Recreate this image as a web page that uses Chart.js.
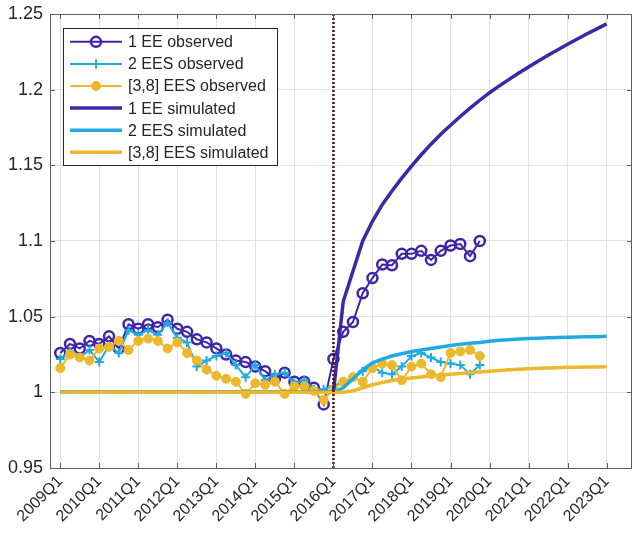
<!DOCTYPE html>
<html>
<head>
<meta charset="utf-8">
<script src="https://cdn.jsdelivr.net/npm/chart.js@4.4.1/dist/chart.umd.min.js"></script>
<style>
  html, body { margin: 0; padding: 0; background: #ffffff; }
  canvas { display: block; }
</style>
</head>
<body>
<canvas id="chart" width="633" height="535"></canvas>
<script>
// Quarter index 0 = 2009Q1, index 56 = 2023Q1.
const tickIndex  = [0, 4, 8, 12, 16, 20, 24, 28, 32, 36, 40, 44, 48, 52, 56];
const tickLabels = ['2009Q1', '2010Q1', '2011Q1', '2012Q1', '2013Q1', '2014Q1', '2015Q1',
                    '2016Q1', '2017Q1', '2018Q1', '2019Q1', '2020Q1', '2021Q1', '2022Q1', '2023Q1'];
const yTicks = [0.95, 1.00, 1.05, 1.10, 1.15, 1.20, 1.25];
const yTickLabels = ['0.95', '1', '1.05', '1.1', '1.15', '1.2', '1.25'];

// Reform quarter (vertical marker)
const reformQuarter = 28;

// Observed series, 2009Q1 .. 2019Q4
const ee1Observed = [
  1.026, 1.032, 1.029, 1.034, 1.032, 1.037, 1.029, 1.045, 1.042, 1.045,
  1.043, 1.048, 1.042, 1.040, 1.035, 1.033, 1.029, 1.025, 1.021, 1.020,
  1.017, 1.014, 1.009, 1.013, 1.007, 1.007, 1.003, 0.992, 1.022, 1.040,
  1.0465, 1.0655, 1.0755, 1.0845, 1.084, 1.0915, 1.0915, 1.0935, 1.0875, 1.0935,
  1.097, 1.098, 1.090, 1.100
];
const ees2Observed = [
  1.022, 1.027, 1.023, 1.028, 1.020, 1.031, 1.026, 1.041, 1.038, 1.041,
  1.038, 1.046, 1.036, 1.033, 1.017, 1.021, 1.024, 1.026, 1.018, 1.010,
  1.018, 1.008, 1.012, 1.013, 1.006, 1.008, 1.002, 1.002, 1.004, 1.007,
  1.010, 1.014, 1.017, 1.013, 1.012, 1.017, 1.024, 1.026, 1.023, 1.020,
  1.019, 1.018, 1.012, 1.018
];
const ees38Observed = [
  1.016, 1.025, 1.023, 1.021, 1.029, 1.030, 1.034, 1.028, 1.034, 1.0355,
  1.034, 1.029, 1.033, 1.026, 1.021, 1.015, 1.011, 1.009, 1.007, 0.999,
  1.006, 1.005, 1.007, 0.999, 1.004, 1.004, 1.001, 0.995, 1.002, 1.007,
  1.010, 1.007, 1.016, 1.019, 1.018, 1.008, 1.017, 1.019, 1.012, 1.010,
  1.026, 1.027, 1.028, 1.024
];

// Simulated series, 2009Q1 .. 2023Q1
const ee1Simulated = [
  1.000, 1.000, 1.000, 1.000, 1.000, 1.000, 1.000, 1.000, 1.000, 1.000,
  1.000, 1.000, 1.000, 1.000, 1.000, 1.000, 1.000, 1.000, 1.000, 1.000,
  1.000, 1.000, 1.000, 1.000, 1.000, 1.000, 1.000, 1.000, 1.000,
  1.060, 1.080, 1.100, 1.113, 1.124, 1.133, 1.1415, 1.1495, 1.157, 1.164,
  1.1705, 1.1765, 1.1823, 1.1878, 1.193, 1.198, 1.2025, 1.2068, 1.211, 1.215,
  1.2189, 1.2227, 1.2264, 1.230, 1.2335, 1.2369, 1.2402, 1.2435
];
const ees2Simulated = [
  1.000, 1.000, 1.000, 1.000, 1.000, 1.000, 1.000, 1.000, 1.000, 1.000,
  1.000, 1.000, 1.000, 1.000, 1.000, 1.000, 1.000, 1.000, 1.000, 1.000,
  1.000, 1.000, 1.000, 1.000, 1.000, 1.000, 1.000, 1.000, 1.000,
  1.003, 1.009, 1.015, 1.0195, 1.022, 1.024, 1.0255, 1.027, 1.028, 1.029,
  1.030, 1.031, 1.0318, 1.0325, 1.033, 1.0337, 1.0344, 1.0348, 1.0352, 1.0355,
  1.0358, 1.036, 1.0362, 1.0364, 1.0366, 1.0367, 1.0368, 1.037
];
const ees38Simulated = [
  1.000, 1.000, 1.000, 1.000, 1.000, 1.000, 1.000, 1.000, 1.000, 1.000,
  1.000, 1.000, 1.000, 1.000, 1.000, 1.000, 1.000, 1.000, 1.000, 1.000,
  1.000, 1.000, 1.000, 1.000, 1.000, 1.000, 1.000, 1.000, 1.000, 1.000,
  1.001, 1.003, 1.005, 1.0065, 1.0078, 1.0088, 1.0095, 1.0102, 1.0108, 1.0114,
  1.012, 1.0125, 1.013, 1.0135, 1.014, 1.0145, 1.0149, 1.0153, 1.0156, 1.0159,
  1.0161, 1.0163, 1.0165, 1.0166, 1.0167, 1.0168, 1.0169
];

const PURPLE = '#3e26a8';
const CYAN   = '#22aae0';
const GOLD   = '#ecb82c';
const MAROON = '#4e1414';
const TEXT   = '#262626';
const AXIS   = '#5f5f5f';
const GRID   = '#e2e2e2';
const FONT_FAMILY = '"Liberation Sans", Arial, Helvetica, sans-serif';

const toPoints = arr => arr.map((v, i) => ({ x: i, y: v }));

const datasets = [
  { label: '1 EE observed', data: toPoints(ee1Observed), borderColor: PURPLE, borderWidth: 2,
    pointStyle: 'circle', pointRadius: 5, pointBorderWidth: 2.5, pointBorderColor: PURPLE,
    pointBackgroundColor: 'rgba(0,0,0,0)', order: 7 },
  { label: '2 EES observed', data: toPoints(ees2Observed), borderColor: CYAN, borderWidth: 2,
    pointStyle: 'cross', pointRadius: 4.5, pointBorderWidth: 2, pointBorderColor: CYAN,
    pointBackgroundColor: CYAN, order: 6 },
  { label: '[3,8] EES observed', data: toPoints(ees38Observed), borderColor: GOLD, borderWidth: 2,
    pointStyle: 'circle', pointRadius: 4.5, pointBorderWidth: 1, pointBorderColor: GOLD,
    pointBackgroundColor: GOLD, order: 5 },
  { label: '1 EE simulated', data: toPoints(ee1Simulated), borderColor: PURPLE, borderWidth: 3.5,
    pointRadius: 0, order: 4 },
  { label: '2 EES simulated', data: toPoints(ees2Simulated), borderColor: CYAN, borderWidth: 3.5,
    pointRadius: 0, order: 3 },
  { label: '[3,8] EES simulated', data: toPoints(ees38Simulated), borderColor: GOLD, borderWidth: 3.5,
    pointRadius: 0, order: 2 },
  { label: 'reform', data: [{ x: reformQuarter, y: yTicks[0] }, { x: reformQuarter, y: yTicks[yTicks.length - 1] }],
    borderColor: MAROON, borderWidth: 2.5, borderDash: [2, 2], borderCapStyle: 'butt',
    pointRadius: 0, order: 1, isMarker: true }
];

// Box around the plot with inward tick marks on all four sides
const framePlugin = {
  id: 'frame',
  afterDatasetsDraw(chart) {
    const { ctx, chartArea: a, scales } = chart;
    ctx.save();
    ctx.strokeStyle = AXIS;
    ctx.lineWidth = 1;
    const tl = 5;
    ctx.beginPath();
    tickIndex.forEach(v => {
      const x = Math.round(scales.x.getPixelForValue(v)) + 0.5;
      ctx.moveTo(x, a.bottom); ctx.lineTo(x, a.bottom - tl);
      ctx.moveTo(x, a.top); ctx.lineTo(x, a.top + tl);
    });
    yTicks.forEach(v => {
      const y = Math.round(scales.y.getPixelForValue(v)) + 0.5;
      ctx.moveTo(a.left, y); ctx.lineTo(a.left + tl, y);
      ctx.moveTo(a.right, y); ctx.lineTo(a.right - tl, y);
    });
    ctx.stroke();
    ctx.strokeRect(Math.round(a.left) + 0.5, Math.round(a.top) + 0.5,
                   Math.round(a.right - a.left) - 1, Math.round(a.bottom - a.top));
    ctx.restore();
  }
};

// Legend box in the upper-left corner of the plot
const legendPlugin = {
  id: 'legendBox',
  afterDraw(chart) {
    const { ctx } = chart;
    const bx = 63.5, by = 28.5, bw = 214, bh = 137;
    ctx.save();
    ctx.fillStyle = '#ffffff';
    ctx.fillRect(bx, by, bw, bh);
    ctx.strokeStyle = '#262626';
    ctx.lineWidth = 1;
    ctx.strokeRect(bx, by, bw, bh);
    ctx.font = '16px ' + FONT_FAMILY;
    ctx.textBaseline = 'middle';
    ctx.fillStyle = TEXT;
    const entries = chart.data.datasets.filter(d => !d.isMarker);
    entries.forEach((d, k) => {
      const y = 41.8 + k * 22.1;
      const x0 = 70, x1 = 122, xm = (x0 + x1) / 2;
      ctx.strokeStyle = d.borderColor;
      ctx.lineWidth = d.borderWidth;
      ctx.setLineDash([]);
      ctx.beginPath(); ctx.moveTo(x0, y); ctx.lineTo(x1, y); ctx.stroke();
      if (d.pointRadius > 0) {
        ctx.lineWidth = d.pointBorderWidth;
        if (d.pointStyle === 'cross') {
          const r = d.pointRadius;
          ctx.beginPath();
          ctx.moveTo(xm - r, y); ctx.lineTo(xm + r, y);
          ctx.moveTo(xm, y - r); ctx.lineTo(xm, y + r);
          ctx.stroke();
        } else {
          ctx.beginPath();
          ctx.arc(xm, y, d.pointRadius, 0, Math.PI * 2);
          if (d.pointBackgroundColor !== 'rgba(0,0,0,0)') {
            ctx.fillStyle = d.pointBackgroundColor; ctx.fill();
          }
          ctx.stroke();
        }
      }
      ctx.fillStyle = TEXT;
      ctx.fillText(d.label, 128, y + 1);
    });
    ctx.restore();
  }
};

new Chart(document.getElementById('chart').getContext('2d'), {
  type: 'line',
  data: { datasets },
  options: {
    responsive: false,
    animation: false,
    devicePixelRatio: 1,
    layout: { autoPadding: false, padding: { left: 0, right: 1, top: 14, bottom: 0 } },
    elements: { line: { tension: 0 } },
    plugins: { legend: { display: false }, tooltip: { enabled: false } },
    scales: {
      x: {
        type: 'linear', min: -1.05, max: 58.6,
        afterBuildTicks: s => { s.ticks = tickIndex.map(v => ({ value: v })); },
        afterFit: s => { s.height = 67; s.paddingLeft = 0; s.paddingRight = 0; },
        ticks: {
          autoSkip: false, minRotation: 45, maxRotation: 45, padding: 4,
          color: TEXT, font: { family: FONT_FAMILY, size: 16 },
          callback: v => tickLabels[tickIndex.indexOf(v)]
        },
        grid: { color: GRID, drawTicks: false, lineWidth: 1 },
        border: { display: false }
      },
      y: {
        type: 'linear', min: 0.95, max: 1.25,
        afterBuildTicks: s => { s.ticks = yTicks.map(v => ({ value: v })); },
        afterFit: s => { s.width = 50; s.paddingTop = 0; s.paddingBottom = 0; },
        ticks: {
          padding: 7, color: TEXT, font: { family: FONT_FAMILY, size: 18 },
          callback: v => yTickLabels[yTicks.findIndex(t => Math.abs(t - v) < 1e-9)]
        },
        grid: { color: GRID, drawTicks: false, lineWidth: 1 },
        border: { display: false }
      }
    }
  },
  plugins: [framePlugin, legendPlugin]
});
</script>
</body>
</html>
